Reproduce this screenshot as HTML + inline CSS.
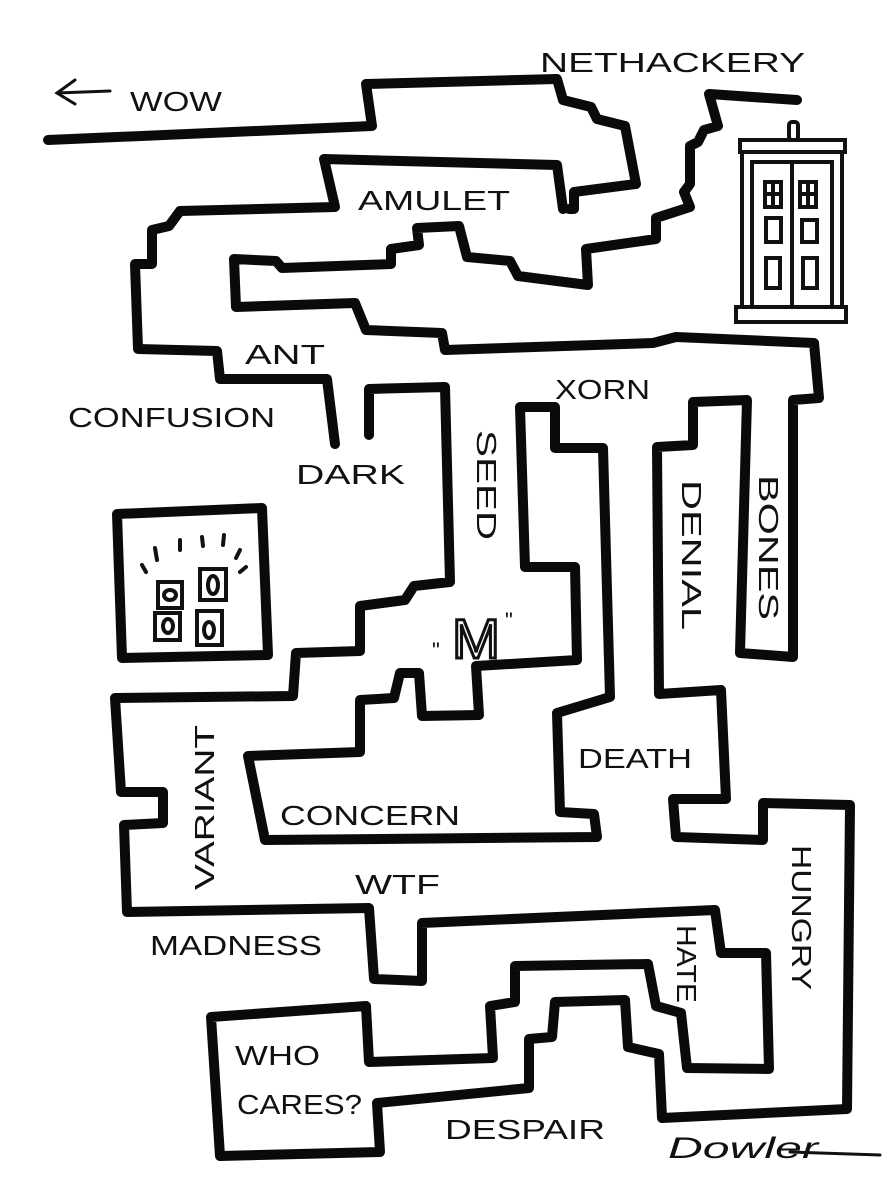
<!DOCTYPE html>
<html><head><meta charset="utf-8"><style>
html,body{margin:0;padding:0;background:#fff}
svg{display:block}
text{font-family:"Liberation Sans",sans-serif;fill:#111}
</style></head><body>
<svg width="882" height="1188" viewBox="0 0 882 1188" xmlns="http://www.w3.org/2000/svg">
<rect width="882" height="1188" fill="#fff"/>
<g fill="none" stroke="#0a0a0a" stroke-width="10" stroke-linejoin="round" stroke-linecap="round">
<polyline points="48,140 372,126 366,84 557,79 563,100 591,107 597,119 625,126 636,184 574,192 574,209 569,209"/>
<polyline points="563,209 557,165 324,159 335,207 180,211 169,226 152,230 152,264 135,264 138,349 217,351 220,379 327,379 335,444"/>
<polyline points="797,100 709,94 718,126 704,130 698,142 690,146 690,184 684,192 690,207 656,218 656,239 586,249 588,285 518,276 510,261 467,257 459,226 417,228 419,245 391,249 391,264 282,268 276,261 234,259 236,307 355,303 366,330 442,333 445,350 653,343 676,337 814,343 819,398 793,400 793,657 740,653 747,400 693,402 693,445 657,447 659,694 721,690 726,799 673,799 676,837 763,840 763,803 850,805 847,1109 662,1118 659,1054 628,1047 625,1000 555,1002 552,1037 529,1039 529,1088 377,1103 380,1152 220,1156 211,1017 366,1006 369,1062 493,1058 490,1006 515,1002 515,966 648,964 656,1006 681,1013 687,1068 769,1069 766,953 721,953 715,910 422,923 422,981 374,979 369,908 127,912 124,825 163,823 163,792 121,792 115,698 293,696 296,653 360,651 360,606 405,600 414,586 450,582 445,387 369,389 369,435"/>
<polygon points="265,840 248,756 360,752 360,700 394,698 400,673 419,673 422,716 479,715 476,666 577,660 575,567 525,567 520,407 555,407 555,448 603,448 610,697 557,713 560,812 594,814 597,837"/>
<polygon points="117,514 262,508 268,655 122,658"/>
</g>
<!-- light box interior -->
<g fill="none" stroke="#111" stroke-width="4" stroke-linecap="round">
<rect x="158" y="582" width="24" height="26"/>
<rect x="200" y="569" width="26" height="31"/>
<rect x="155" y="613" width="25" height="27"/>
<rect x="197" y="611" width="25" height="34"/>
<ellipse cx="170" cy="595" rx="6" ry="5"/>
<ellipse cx="213" cy="585" rx="5" ry="9"/>
<ellipse cx="168" cy="626" rx="5" ry="7"/>
<ellipse cx="209" cy="630" rx="5" ry="8"/>
<line x1="142" y1="565" x2="146" y2="572"/>
<line x1="155" y1="548" x2="157" y2="560"/>
<line x1="180" y1="540" x2="180" y2="550"/>
<line x1="202" y1="537" x2="203" y2="546"/>
<line x1="224" y1="535" x2="223" y2="545"/>
<line x1="240" y1="550" x2="236" y2="558"/>
<line x1="246" y1="567" x2="240" y2="572"/>
</g>
<!-- tardis -->
<g fill="none" stroke="#111" stroke-width="4">
<rect x="789" y="122" width="9" height="18" rx="3"/>
<rect x="740" y="140" width="105" height="12"/>
<rect x="742" y="152" width="100" height="155"/>
<rect x="752" y="162" width="80" height="145"/>
<line x1="792" y1="162" x2="792" y2="307"/>
<rect x="736" y="307" width="110" height="15"/>
<rect x="765" y="182" width="16" height="25"/><line x1="765" y1="194" x2="781" y2="194"/><line x1="773" y1="182" x2="773" y2="207"/>
<rect x="800" y="182" width="16" height="25"/><line x1="800" y1="194" x2="816" y2="194"/><line x1="808" y1="182" x2="808" y2="207"/>
<rect x="766" y="218" width="15" height="24"/>
<rect x="802" y="220" width="15" height="22"/>
<rect x="766" y="258" width="14" height="30"/>
<rect x="803" y="258" width="14" height="30"/>
</g>
<!-- labels -->
<g font-size="28">
<text x="540" y="72" textLength="265" lengthAdjust="spacingAndGlyphs">NETHACKERY</text>
<text x="130" y="111" textLength="92" lengthAdjust="spacingAndGlyphs">WOW</text>
<text x="358" y="210" textLength="152" lengthAdjust="spacingAndGlyphs">AMULET</text>
<text x="245" y="364" textLength="80" lengthAdjust="spacingAndGlyphs">ANT</text>
<text x="68" y="427" textLength="207" lengthAdjust="spacingAndGlyphs">CONFUSION</text>
<text x="296" y="484" textLength="109" lengthAdjust="spacingAndGlyphs">DARK</text>
<text x="555" y="399" textLength="95" lengthAdjust="spacingAndGlyphs">XORN</text>
<text x="280" y="825" textLength="180" lengthAdjust="spacingAndGlyphs">CONCERN</text>
<text x="578" y="768" textLength="114" lengthAdjust="spacingAndGlyphs">DEATH</text>
<text x="355" y="894" textLength="85" lengthAdjust="spacingAndGlyphs">WTF</text>
<text x="150" y="955" textLength="172" lengthAdjust="spacingAndGlyphs">MADNESS</text>
<text x="235" y="1065" textLength="85" lengthAdjust="spacingAndGlyphs">WHO</text>
<text x="237" y="1114" textLength="125" lengthAdjust="spacingAndGlyphs">CARES?</text>
<text x="445" y="1139" textLength="160" lengthAdjust="spacingAndGlyphs">DESPAIR</text>
<text transform="translate(477,430) rotate(90)" textLength="110" lengthAdjust="spacingAndGlyphs">SEED</text>
<text transform="translate(682,480) rotate(90)" textLength="150" lengthAdjust="spacingAndGlyphs">DENIAL</text>
<text transform="translate(759,475) rotate(90)" textLength="145" lengthAdjust="spacingAndGlyphs">BONES</text>
<text transform="translate(792,845) rotate(90)" textLength="145" lengthAdjust="spacingAndGlyphs">HUNGRY</text>
<text transform="translate(677,925) rotate(90)" textLength="78" lengthAdjust="spacingAndGlyphs">HATE</text>
<text transform="translate(214,890) rotate(-90)" textLength="165" lengthAdjust="spacingAndGlyphs">VARIANT</text>
<text x="432" y="658" font-size="22">"</text>
<text x="505" y="628" font-size="22">"</text>
<text x="452" y="658" font-size="56" textLength="48" lengthAdjust="spacingAndGlyphs" style="fill:none;stroke:#111;stroke-width:3">M</text>
<text x="668" y="1158" font-size="30" font-style="italic" textLength="150" lengthAdjust="spacingAndGlyphs">Dowler</text>
</g>
<g fill="none" stroke="#111" stroke-width="3" stroke-linecap="round">
<line x1="57" y1="93" x2="110" y2="91"/>
<polyline points="75,80 57,93 75,104"/>
<line x1="790" y1="1152" x2="880" y2="1155"/>
</g>
</svg>
</body></html>
